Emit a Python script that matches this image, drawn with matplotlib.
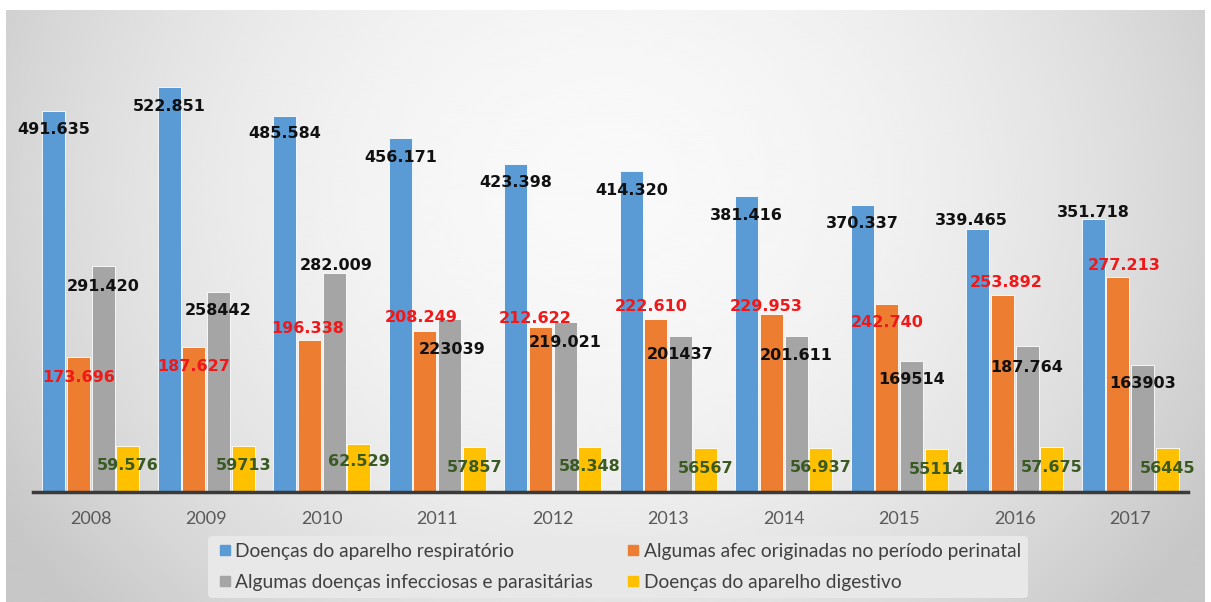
import matplotlib.pyplot as plt
import numpy as np
from matplotlib.lines import Line2D

years = ['2008', '2009', '2010', '2011', '2012', '2013', '2014', '2015', '2016', '2017']

respiratorio = [491635, 522851, 485584, 456171, 423398, 414320, 381416, 370337, 339465, 351718]
perinatal = [173696, 187627, 196338, 208249, 212622, 222610, 229953, 242740, 253892, 277213]
infecciosas = [291420, 258442, 282009, 223039, 219021, 201437, 201611, 169514, 187764, 163903]
digestivo = [59576, 59713, 62529, 57857, 58348, 56567, 56937, 55114, 57675, 56445]

# labels as written on the original chart (mixed formatting)
respiratorio_lbl = ['491.635', '522.851', '485.584', '456.171', '423.398',
                    '414.320', '381.416', '370.337', '339.465', '351.718']
perinatal_lbl = ['173.696', '187.627', '196.338', '208.249', '212.622',
                 '222.610', '229.953', '242.740', '253.892', '277.213']
infecciosas_lbl = ['291.420', '258442', '282.009', '223039', '219.021',
                   '201437', '201.611', '169514', '187.764', '163903']
digestivo_lbl = ['59.576', '59713', '62.529', '57857', '58.348',
                 '56567', '56.937', '55114', '57.675', '56445']

series_names = ['Doenças do aparelho respiratório',
                'Algumas afec originadas no período perinatal',
                'Algumas doenças infecciosas e parasitárias',
                'Doenças do aparelho digestivo']

# label offsets (pixels) relative to the top of each bar
resp_off = [(0, -19), (0, -20), (0, -18), (0, -19), (0, -19),
            (0, -20), (0, -19), (0, -19), (-6, 8), (0, 7)]
peri_off = [(0, -20), (0, -20), (-2, 11), (-4, 13), (-5, 9),
            (-5, 13), (-5, 7), (0, -19), (4, 13), (6, 12)]
infe_off = [(0, -20), (0, -19), (2, 8), (3, -30), (0, -20),
            (0, -19), (0, -20), (0, -19), (0, -21), (0, -19)]
dige_off = [(0, -20), (0, -20), (0, -18), (0, -20), (0, -20),
            (0, -20), (0, -20), (0, -20), (0, -20), (0, -20)]

colors = ['#5B9BD5', '#ED7D31', '#A5A5A5', '#FFC000']
label_colors = ['#111111', '#F01818', '#111111', '#3A5A23']

W, H = 1211, 602
fig = plt.figure(figsize=(W / 100, H / 100), dpi=100)

# gradient background panel
bg = fig.add_axes([6 / W, 0, (1205 - 6) / W, (H - 10) / H], zorder=0)
yy, xx = np.mgrid[0:1:300j, 0:1:600j]
r2 = ((xx - 0.5) / 0.55) ** 2 + ((yy - 0.3) / 1.0) ** 2
shade = np.clip(0.975 - 0.17 * r2, 0.78, 1.0)
bg.imshow(shade, cmap='gray', vmin=0, vmax=1, aspect='auto',
          extent=[0, 1, 0, 1], origin='upper', interpolation='bicubic')
bg.set_axis_off()

ax_left, ax_right, ax_base, ax_top = 33, 1188, 492, 40
ax = fig.add_axes([ax_left / W, (H - ax_base) / H,
                   (ax_right - ax_left) / W, (ax_base - ax_top) / H], zorder=1)
ax.patch.set_alpha(0)

x = np.arange(len(years))
offsets = [-0.32, -0.107, 0.107, 0.32]
all_vals = [respiratorio, perinatal, infecciosas, digestivo]
all_lbls = [respiratorio_lbl, perinatal_lbl, infecciosas_lbl, digestivo_lbl]
all_offs = [resp_off, peri_off, infe_off, dige_off]

for k in range(4):
    ax.bar(x + offsets[k], all_vals[k], width=0.2, color=colors[k],
           edgecolor='white', linewidth=0.6, zorder=2)
    for i in range(len(years)):
        dx, dy = all_offs[k][i]
        ax.annotate(all_lbls[k][i], xy=(x[i] + offsets[k], all_vals[k][i]),
                    xytext=(dx, dy), textcoords='offset pixels',
                    ha='center', va='center', fontsize=11.5, fontweight='bold',
                    color=label_colors[k], family='DejaVu Sans', zorder=3)

ax.set_xlim(-0.5, 9.5)
ax.set_ylim(0, (ax_base - ax_top) * 1290)
for s in ['top', 'right', 'left']:
    ax.spines[s].set_visible(False)
ax.spines['bottom'].set_color('#3a3a3a')
ax.spines['bottom'].set_linewidth(2.5)
ax.set_yticks([])
ax.set_xticks(x)
ax.set_xticklabels(years, fontsize=13, color='#595959', family='Lato')
ax.tick_params(axis='x', length=0, pad=14)

# legend filled row by row: order handles for column-major filling
order = [0, 2, 1, 3]
handles = [Line2D([], [], marker='s', linestyle='none', markersize=7,
                  color=colors[j]) for j in order]
leg = fig.legend(handles, [series_names[j] for j in order], ncol=2, loc='center',
                 bbox_to_anchor=(618 / W, 1 - 567 / H),
                 frameon=True, handletextpad=0.05, handlelength=1.0,
                 columnspacing=1.6, labelspacing=0.75, borderpad=0.35,
                 prop={'family': 'Lato', 'size': 13.8})
leg.get_frame().set_facecolor('#e8e8e8')
leg.get_frame().set_edgecolor('none')
leg.get_frame().set_alpha(1)
for t in leg.get_texts():
    t.set_color('#404040')

fig.savefig('out.png', dpi=100)
